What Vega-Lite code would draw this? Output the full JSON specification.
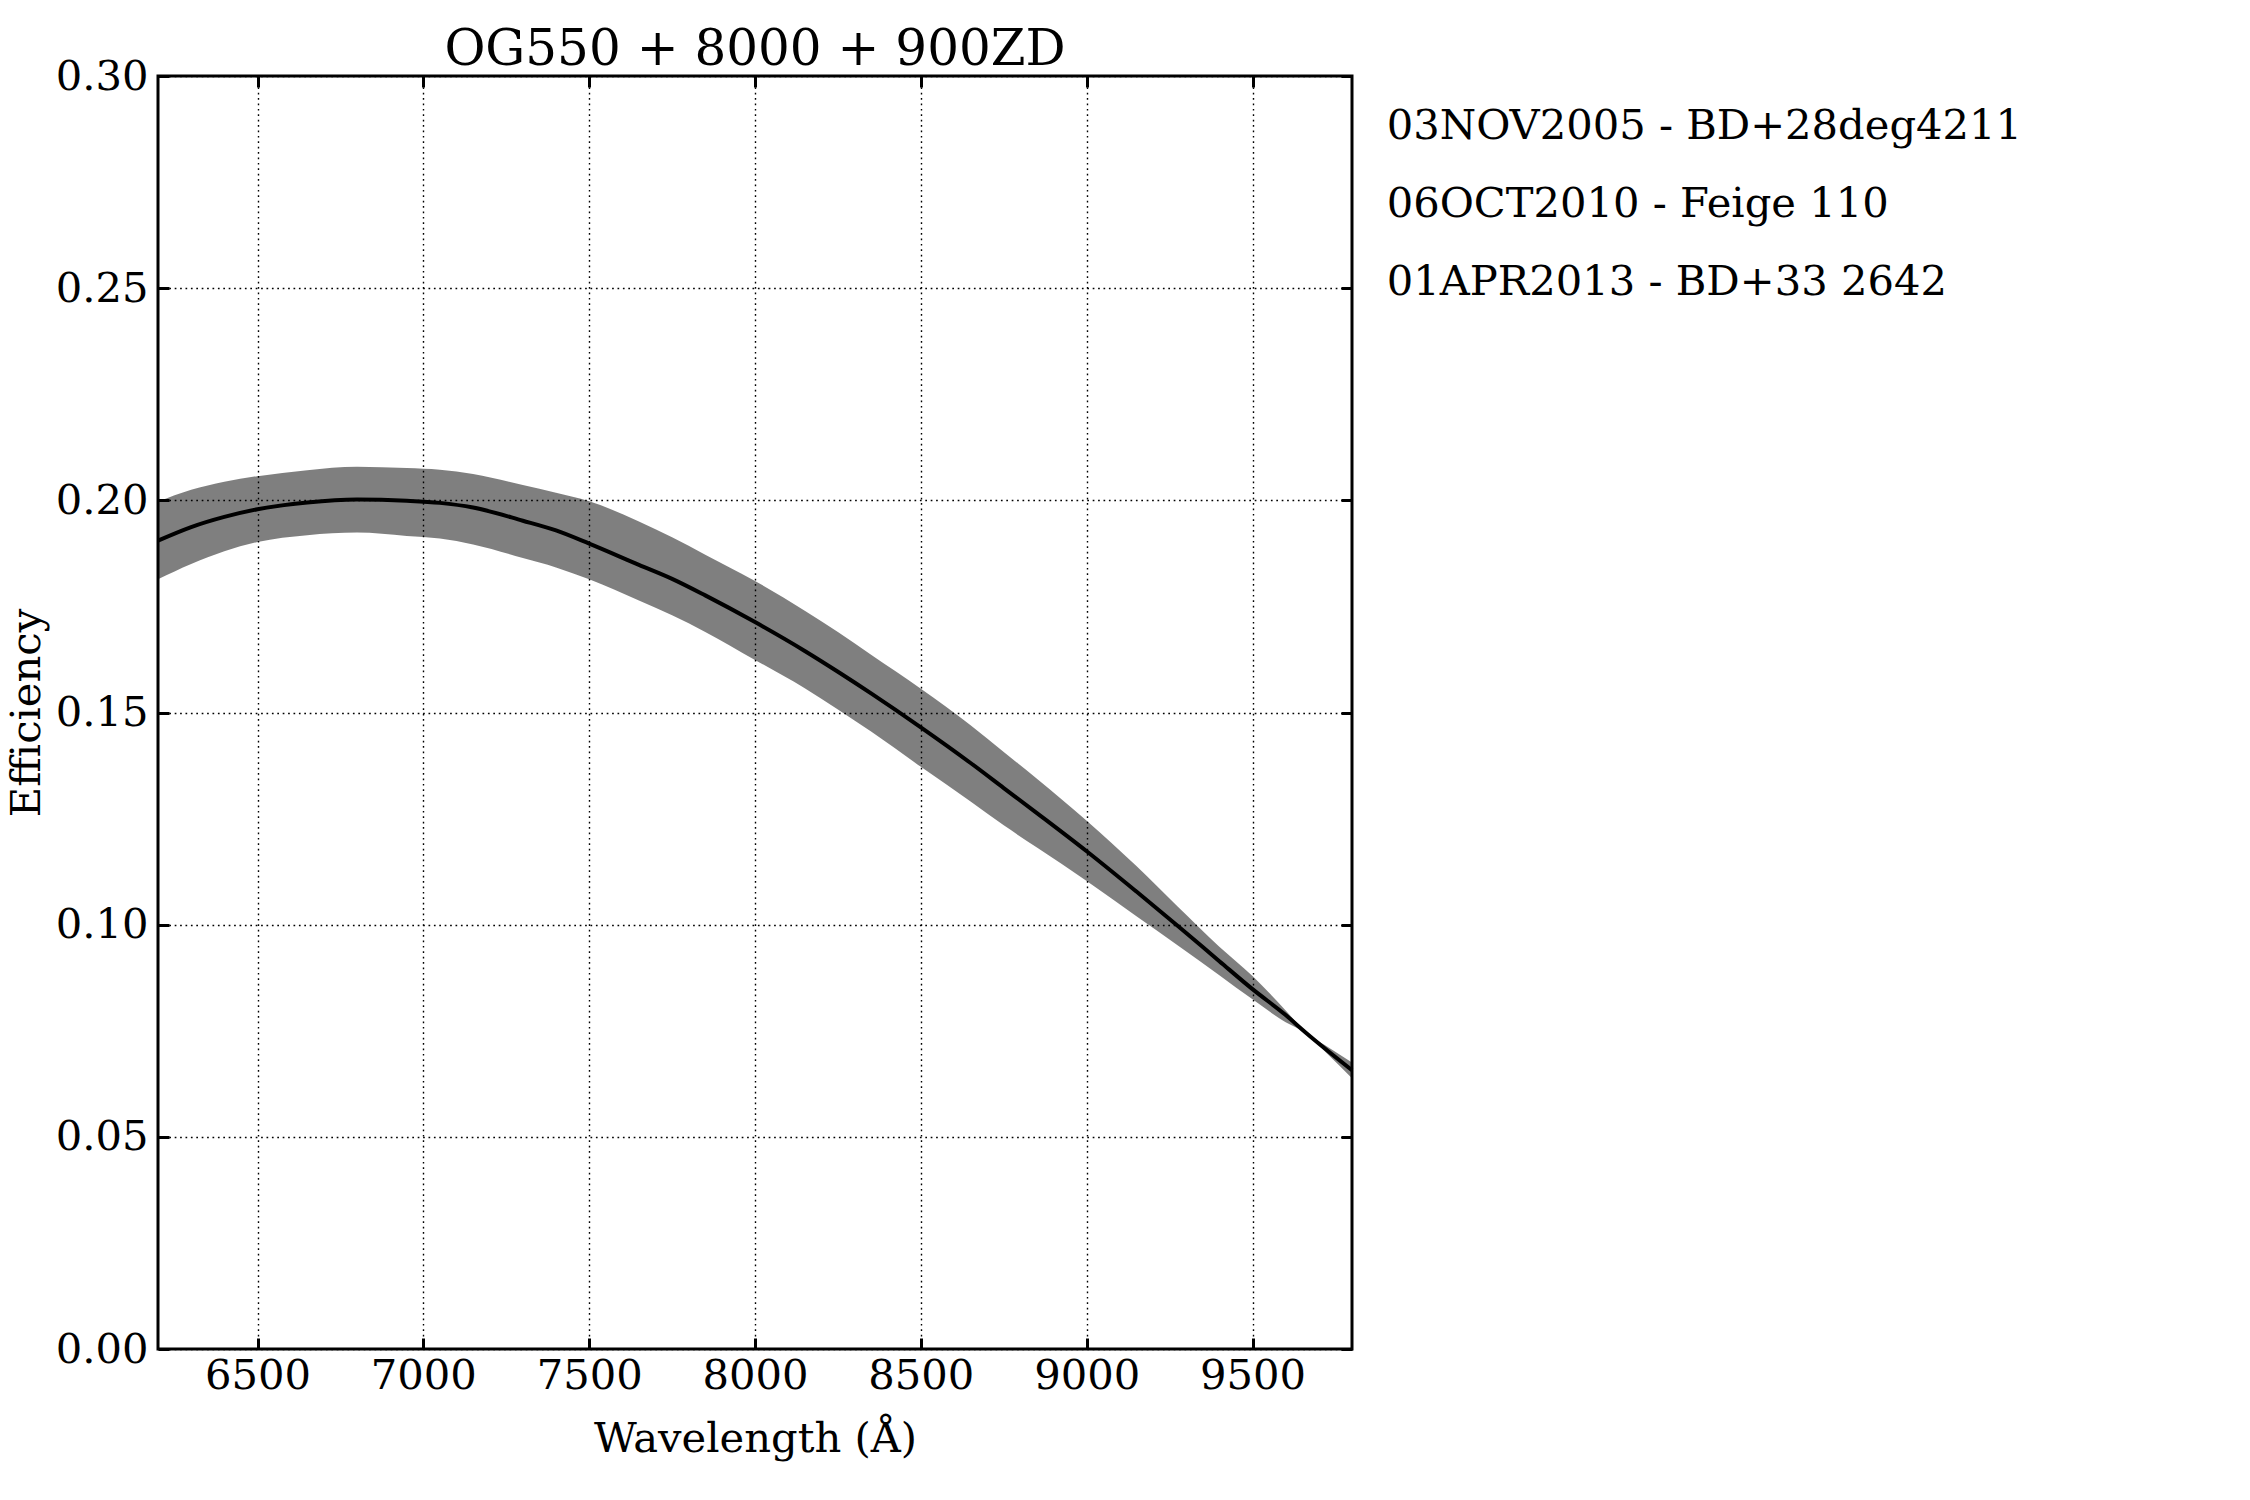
{
  "$schema": "https://vega.github.io/schema/vega-lite/v6.json",
  "autosize": {"type": "none"},
  "padding": {"left": 158, "top": 76, "right": 898, "bottom": 151},
  "width": 1194,
  "height": 1273,
  "background": "white",
  "title": {
    "text": "OG550 + 8000 + 900ZD",
    "font": "DejaVu Serif",
    "fontSize": 50,
    "fontWeight": "normal",
    "color": "black",
    "anchor": "middle",
    "offset": -19
  },
  "config": {
    "view": {"stroke": "black", "strokeWidth": 3},
    "axis": {
      "labelFont": "DejaVu Serif",
      "labelFontSize": 41.67,
      "labelColor": "black",
      "titleFont": "DejaVu Serif",
      "titleFontSize": 41.67,
      "titleFontWeight": "normal",
      "titleColor": "black",
      "domain": false,
      "tickColor": "black",
      "tickWidth": 3,
      "tickSize": -11,
      "labelPadding": 21,
      "gridColor": "black",
      "gridDash": [1.7, 3.7],
      "gridWidth": 1.4,
      "gridOpacity": 1
    },
    "legend": {
      "orient": "none",
      "legendX": 1187,
      "legendY": 29,
      "padding": 0,
      "symbolSize": 0,
      "symbolOpacity": 0,
      "symbolStrokeWidth": 0,
      "labelOffset": 0,
      "labelFont": "DejaVu Serif",
      "labelFontSize": 41.67,
      "labelColor": "black",
      "labelLimit": 0,
      "rowPadding": 35
    }
  },
  "datasets": {
    "curve": [
      {"wl": 6200, "mean": 0.1905, "hi": 0.1997, "lo": 0.1814},
      {"wl": 6300, "mean": 0.1937, "hi": 0.2025, "lo": 0.1850},
      {"wl": 6400, "mean": 0.1961, "hi": 0.2044, "lo": 0.1880},
      {"wl": 6500, "mean": 0.1979, "hi": 0.2057, "lo": 0.1902},
      {"wl": 6650, "mean": 0.1995, "hi": 0.2071, "lo": 0.1918},
      {"wl": 6800, "mean": 0.2002, "hi": 0.2079, "lo": 0.1924},
      {"wl": 6950, "mean": 0.1999, "hi": 0.2076, "lo": 0.1916},
      {"wl": 7050, "mean": 0.1994, "hi": 0.2072, "lo": 0.1910},
      {"wl": 7150, "mean": 0.1983, "hi": 0.2062, "lo": 0.1896},
      {"wl": 7300, "mean": 0.1952, "hi": 0.2036, "lo": 0.1864},
      {"wl": 7400, "mean": 0.1929, "hi": 0.2018, "lo": 0.1842},
      {"wl": 7500, "mean": 0.1898, "hi": 0.1998, "lo": 0.1814},
      {"wl": 7650, "mean": 0.1848, "hi": 0.1950, "lo": 0.1764},
      {"wl": 7750, "mean": 0.1815, "hi": 0.1913, "lo": 0.1729},
      {"wl": 7850, "mean": 0.1776, "hi": 0.1872, "lo": 0.1690},
      {"wl": 8000, "mean": 0.1713, "hi": 0.1810, "lo": 0.1624},
      {"wl": 8150, "mean": 0.1645, "hi": 0.1740, "lo": 0.1557},
      {"wl": 8250, "mean": 0.1596, "hi": 0.1690, "lo": 0.1507},
      {"wl": 8350, "mean": 0.1545, "hi": 0.1636, "lo": 0.1455},
      {"wl": 8500, "mean": 0.1465, "hi": 0.1556, "lo": 0.1372},
      {"wl": 8650, "mean": 0.1381, "hi": 0.1470, "lo": 0.1290},
      {"wl": 8750, "mean": 0.1322, "hi": 0.1407, "lo": 0.1234},
      {"wl": 8850, "mean": 0.1263, "hi": 0.1344, "lo": 0.1182},
      {"wl": 9000, "mean": 0.1173, "hi": 0.1245, "lo": 0.1103},
      {"wl": 9150, "mean": 0.1078, "hi": 0.1138, "lo": 0.1020},
      {"wl": 9275, "mean": 0.0997, "hi": 0.1042, "lo": 0.0951},
      {"wl": 9400, "mean": 0.0914, "hi": 0.0948, "lo": 0.0881},
      {"wl": 9500, "mean": 0.0848, "hi": 0.0879, "lo": 0.0824},
      {"wl": 9600, "mean": 0.0787, "hi": 0.0798, "lo": 0.0770},
      {"wl": 9660, "mean": 0.0746, "hi": 0.0747, "lo": 0.0745},
      {"wl": 9720, "mean": 0.0707, "hi": 0.0715, "lo": 0.0700},
      {"wl": 9800, "mean": 0.0657, "hi": 0.0675, "lo": 0.0638}
    ],
    "obs": [
      {"label": "03NOV2005 - BD+28deg4211"},
      {"label": "06OCT2010 - Feige 110"},
      {"label": "01APR2013 - BD+33 2642"}
    ]
  },
  "layer": [
    {
      "data": {"name": "curve"},
      "mark": {"type": "area", "color": "black", "opacity": 0.5, "interpolate": "monotone"},
      "encoding": {
        "x": {
          "field": "wl",
          "type": "quantitative",
          "scale": {"domain": [6200, 9800], "nice": false, "zero": false},
          "axis": {
            "orient": "bottom",
            "title": "Wavelength (Å)",
            "values": [6500, 7000, 7500, 8000, 8500, 9000, 9500],
            "format": "d",
            "labelPadding": 17,
            "titlePadding": 22
          }
        },
        "y": {
          "field": "lo",
          "type": "quantitative",
          "scale": {"domain": [0, 0.3], "nice": false},
          "axis": {
            "orient": "left",
            "title": "Efficiency",
            "values": [0, 0.05, 0.1, 0.15, 0.2, 0.25, 0.3],
            "format": ".2f",
            "titlePadding": 7
          }
        },
        "y2": {"field": "hi"}
      }
    },
    {
      "data": {"name": "curve"},
      "mark": {"type": "line", "color": "black", "strokeWidth": 4, "interpolate": "monotone"},
      "encoding": {
        "x": {
          "field": "wl",
          "type": "quantitative",
          "axis": {
            "orient": "top",
            "title": null,
            "labels": false,
            "grid": false,
            "values": [6500, 7000, 7500, 8000, 8500, 9000, 9500]
          }
        },
        "y": {
          "field": "mean",
          "type": "quantitative",
          "axis": {
            "orient": "right",
            "title": null,
            "labels": false,
            "grid": false,
            "values": [0, 0.05, 0.1, 0.15, 0.2, 0.25, 0.3]
          }
        }
      }
    },
    {
      "data": {"name": "obs"},
      "mark": {"type": "point", "opacity": 0},
      "encoding": {
        "color": {
          "field": "label",
          "type": "nominal",
          "scale": {
            "domain": ["03NOV2005 - BD+28deg4211", "06OCT2010 - Feige 110", "01APR2013 - BD+33 2642"],
            "range": ["black", "black", "black"]
          },
          "legend": {"title": null}
        }
      }
    }
  ],
  "resolve": {"axis": {"x": "independent", "y": "independent"}}
}
